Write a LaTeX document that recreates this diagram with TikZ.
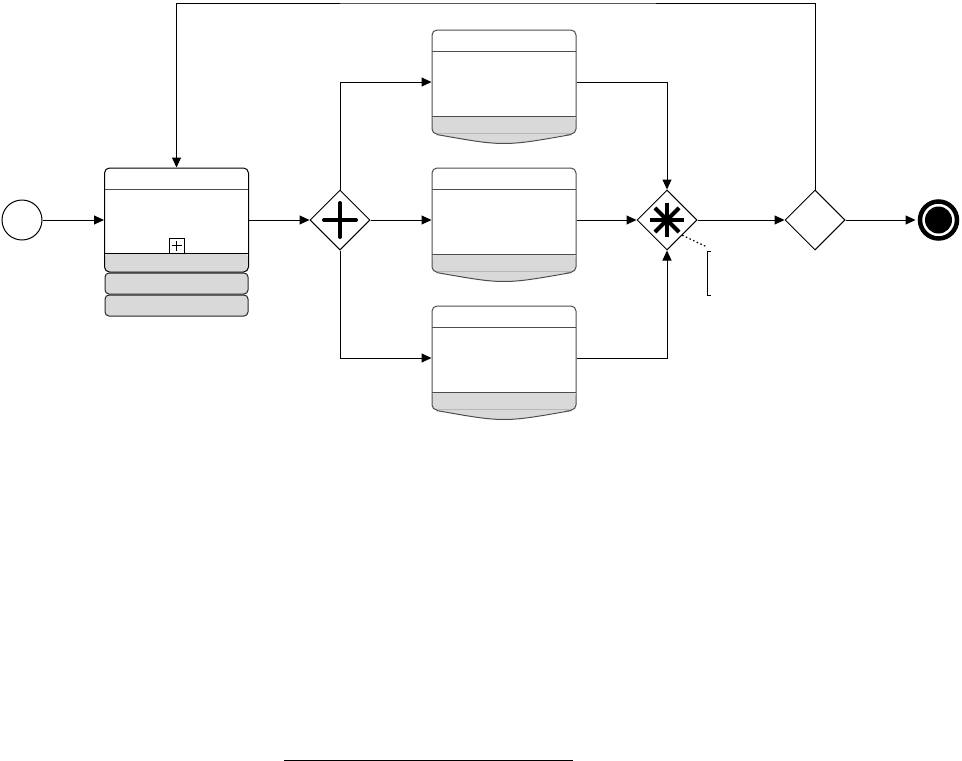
\documentclass[tikz,border=0pt]{standalone}
\usepackage{tikz}
\usetikzlibrary{arrows.meta,positioning,shapes.geometric,calc}
\definecolor{BandGray}{HTML}{D9D9D9}
\definecolor{TaskEdge}{HTML}{4D4D4D}
\tikzset{
  taskbox/.style={draw=TaskEdge,line width=1pt,fill=white,rounded corners=5pt,minimum width=144pt,minimum height=104pt,inner sep=0pt,
    path picture={
      \fill[BandGray] (path picture bounding box.south west) rectangle ([yshift=#1]path picture bounding box.south east);
      \draw[line width=1pt] ([yshift=#1]path picture bounding box.south west) -- ([yshift=#1]path picture bounding box.south east);
      \draw[line width=1pt,draw=TaskEdge] ([yshift=-21pt]path picture bounding box.north west) -- ([yshift=-21pt]path picture bounding box.north east);}},
  taskbox/.default=18pt,
  bandbox/.style={draw=black!85,line width=1pt,fill=BandGray,rounded corners=4pt,minimum width=143pt,minimum height=21pt,inner sep=0pt},
  markbox/.style={draw,line width=0.8pt,fill=white,minimum size=15pt,inner sep=0pt,
    path picture={
      \draw[line width=0.8pt] ([xshift=-5pt]path picture bounding box.center) -- ([xshift=5pt]path picture bounding box.center);
      \draw[line width=0.8pt] ([yshift=-5pt]path picture bounding box.center) -- ([yshift=5pt]path picture bounding box.center);}},
  gateway/.style={diamond,draw,line width=1pt,fill=white,minimum width=60pt,minimum height=60pt,inner sep=0pt},
  pargate/.style={gateway,
    path picture={
      \draw[line width=4pt,line cap=round] ([xshift=-16pt]path picture bounding box.center) -- ([xshift=16pt]path picture bounding box.center);
      \draw[line width=4pt,line cap=round] ([yshift=-17pt]path picture bounding box.center) -- ([yshift=17pt]path picture bounding box.center);}},
  cpxgate/.style={gateway,
    path picture={
      \foreach \a in {0,45,90,135}
        \draw[line width=4pt] ([shift={(\a:17pt)}]path picture bounding box.center) -- ([shift={(\a+180:17pt)}]path picture bounding box.center);}},
  startevent/.style={circle,draw,line width=1pt,fill=white,minimum size=40pt,inner sep=0pt},
  endevent/.style={circle,draw,line width=4.5pt,fill=white,minimum size=37pt,inner sep=0pt,
    path picture={\fill[black] (path picture bounding box.center) circle (13.5pt);}},
  flowline/.style={line width=1pt,-{Triangle[length=10pt,width=9pt]}},
  assocline/.style={line width=1.2pt,dash pattern=on 1.5pt off 2.5pt},
  notebracket/.style={line width=1pt}
}
% curved lower edge of a task
\newcommand{\taskbottom}[1]{%
  \fill[BandGray] ([shift={(5pt,0.8pt)}]#1.south west) -- ([shift={(-5pt,0.8pt)}]#1.south east)
    .. controls ([yshift=-12pt]#1.south) .. ([xshift=5pt]#1.south west) -- cycle;
  \draw[draw=TaskEdge,line width=1pt] ([xshift=5pt]#1.south west) .. controls ([yshift=-12pt]#1.south) .. ([xshift=-5pt]#1.south east);
}

\begin{document}
\begin{tikzpicture}[x=1pt,y=-1pt]
\useasboundingbox (0,0) rectangle (962,761);
% events, subprocess and gateways
\node[startevent] (start) at (22,220) {};
\node[taskbox=19pt,draw=black] (sub) at (176.5,220) {};
\node[bandbox,below=0pt of sub] (band1) {};
\node[bandbox,below=0pt of band1] (band2) {};
\node[markbox,anchor=south] (mark) at ([yshift=19pt]sub.south) {};
\node[pargate] (par) at (340,220) {};
\node[taskbox] (top) at (504,82) {};
\node[taskbox] (mid) at (504,220) {};
\node[taskbox] (bot) at (504,358) {};
\taskbottom{top}
\taskbottom{mid}
\taskbottom{bot}
\node[cpxgate] (cpx) at (667,220) {};
\node[gateway] (xor) at (815,220) {};
\node[endevent] (end) at (938.5,220) {};
\node[inner sep=0pt,minimum width=40pt,minimum height=44pt,anchor=north west] (note) at (707,251) {};
\coordinate (loop) at (500,3);
% flows
\draw[flowline] (start.east) -- (start.east -| sub.west);
\draw[flowline] (sub.east) -- (par.west);
\draw[flowline] (par.north) |- (top.west);
\draw[flowline] (par.east) -- (mid.west);
\draw[flowline] (par.south) |- (bot.west);
\draw[flowline] (top.east) -| (cpx.north);
\draw[flowline] (mid.east) -- (cpx.west);
\draw[flowline] (bot.east) -| (cpx.south);
\draw[flowline] (cpx.east) -- (xor.west);
\draw[flowline,shorten >=2.2pt] (xor.east) -- (end.west);
\draw[flowline] (xor.north) |- (loop) -| (sub.north);
% annotation
\draw[notebracket] ([xshift=4pt]note.north west) -- (note.north west) -- (note.south west) -- ([xshift=4pt]note.south west);
\draw[assocline] (cpx.south east) -- ([yshift=4pt]note.north west);
% rule at the foot
\draw[line width=1pt] (284,760) -- (573,760);
\end{tikzpicture}
\end{document}
